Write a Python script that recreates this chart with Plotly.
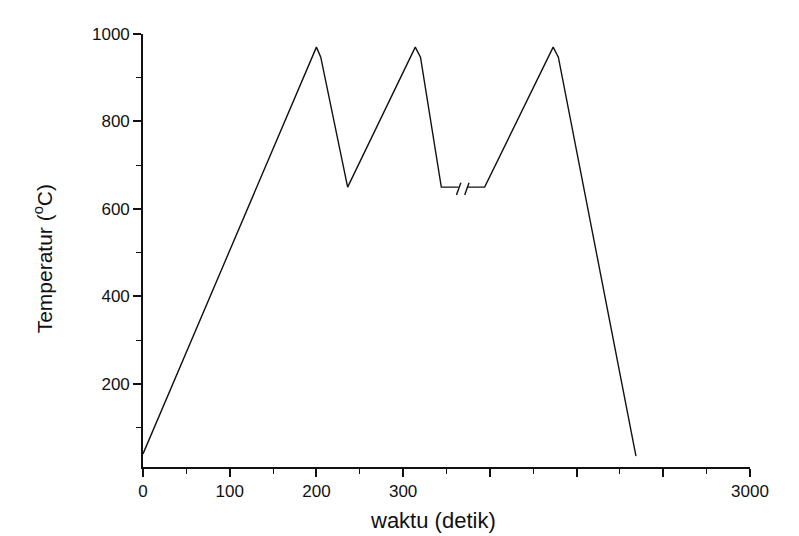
import plotly.graph_objects as go

# Heating profile: positions along the (broken) time axis and temperature in °C.
# None splits the plateau where the time axis is interrupted.
waktu_pos = [0, 200, 205, 236, 314, 320, 344, 364, None, 373.5, 394, 473, 479, 568.5]
temperatur = [40, 970, 947, 650, 970, 947, 650, 650, None, 650, 650, 970, 947, 35]

# Time-axis ticks (axis is compressed after 300 s)
tick_pos = [0, 100, 200, 300, 400, 500, 600, 700]
tick_text = ["0", "100", "200", "300", "", "", "", "3000"]

# Break markers on the plateau ("//")
break_pos = [364, 373.5]
break_temp = 646
break_dx, break_dy = 2.5, 14

font_family = "Liberation Sans, Arial, sans-serif"
ink = "#111111"

fig = go.Figure()
fig.add_trace(go.Scatter(
    x=waktu_pos, y=temperatur, mode="lines",
    line=dict(color=ink, width=1.4),
    connectgaps=False, showlegend=False, hoverinfo="skip",
))

for bx in break_pos:
    fig.add_shape(type="line", xref="x", yref="y",
                  x0=bx - break_dx, y0=break_temp - break_dy,
                  x1=bx + break_dx, y1=break_temp + break_dy,
                  line=dict(color=ink, width=1.4))

axis_common = dict(
    showline=True, linecolor=ink, linewidth=1.6,
    ticks="outside", tickcolor=ink, tickwidth=1.6, ticklen=8,
    showgrid=False, zeroline=False,
    tickfont=dict(family=font_family, size=17, color="#111111"),
)

fig.update_xaxes(
    range=[0, 700], tickmode="array", tickvals=tick_pos, ticktext=tick_text,
    minor=dict(ticks="outside", ticklen=5, tickcolor=ink, tickwidth=1.4, dtick=50, tick0=0),
    **axis_common,
)
fig.update_yaxes(
    range=[10, 1000], tickmode="linear", tick0=0, dtick=200,
    minor=dict(ticks="outside", ticklen=5, tickcolor=ink, tickwidth=1.4, dtick=100, tick0=0),
    **axis_common,
)

fig.add_annotation(text="waktu (detik)", xref="paper", yref="paper",
                   x=0.478, y=-0.124, xanchor="center", yanchor="middle",
                   showarrow=False, font=dict(family=font_family, size=22, color="#111111"))
fig.add_annotation(text="Temperatur (<sup>o</sup>C)", xref="paper", yref="paper",
                   x=-0.165, y=0.4815, xanchor="center", yanchor="middle", textangle=-90,
                   showarrow=False, font=dict(family=font_family, size=21, color="#111111"))

fig.update_layout(
    width=799, height=536,
    margin=dict(l=143, r=49, t=34, b=69),
    paper_bgcolor="white", plot_bgcolor="white",
)

fig.write_html("out.html")
